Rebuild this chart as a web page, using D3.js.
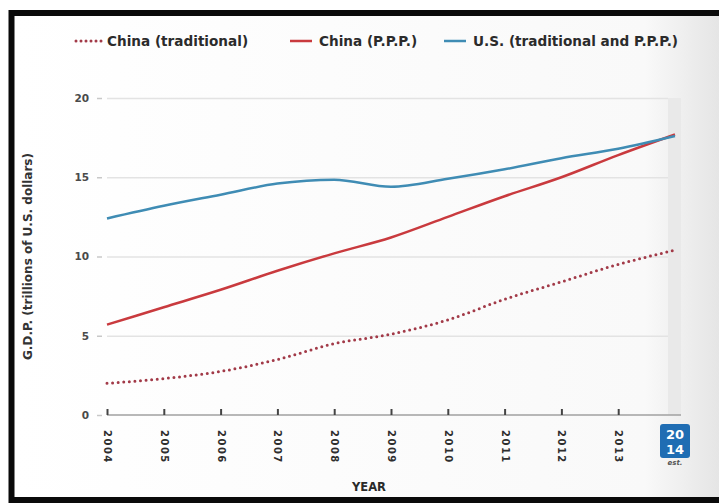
<!DOCTYPE html>
<html>
<head>
<meta charset="utf-8">
<script src="https://cdn.jsdelivr.net/npm/d3@7"></script>
<style>
  body { margin: 0; background: #fff; }
  svg { display: block; }
  text { font-family: "DejaVu Sans", sans-serif; font-weight: bold; }
</style>
</head>
<body>
<div id="chart"></div>
<script>
// values, trillions of U.S. dollars
const years = [2004, 2005, 2006, 2007, 2008, 2009, 2010, 2011, 2012, 2013, 2014];
const chinaTraditional = [2.0, 2.3, 2.75, 3.5, 4.5, 5.1, 6.0, 7.3, 8.4, 9.5, 10.4];
const chinaPPP = [5.7, 6.8, 7.9, 9.1, 10.2, 11.2, 12.5, 13.8, 15.0, 16.4, 17.7];
const usGDP = [12.4, 13.2, 13.9, 14.6, 14.85, 14.4, 14.9, 15.5, 16.2, 16.8, 17.6];
const yTicks = [0, 5, 10, 15, 20];
const seriesNames = ["China (traditional)", "China (P.P.P.)", "U.S. (traditional and P.P.P.)"];

const W = 719, H = 503;
const svg = d3.select("#chart").append("svg")
  .attr("width", W).attr("height", H);

// soft grey fade on the right like the photo
const defs = svg.append("defs");
const grad = defs.append("linearGradient").attr("id", "bg").attr("x1", 0).attr("x2", 1);
grad.append("stop").attr("offset", "0%").attr("stop-color", "#ffffff");
grad.append("stop").attr("offset", "88%").attr("stop-color", "#f9f9f9");
grad.append("stop").attr("offset", "100%").attr("stop-color", "#e2e2e2");
svg.append("rect").attr("x", 12).attr("y", 13).attr("width", W).attr("height", 487)
  .attr("fill", "url(#bg)");

// black frame
svg.append("rect").attr("x", 11.5).attr("y", 13).attr("width", W + 20).attr("height", 487)
  .attr("fill", "none").attr("stroke", "#0a0a0a").attr("stroke-width", 6);

const x = d3.scaleLinear().domain([2004, 2014]).range([107, 675]);
const y = d3.scaleLinear().domain([0, 20]).range([415, 98]);

// shaded band for 2014
svg.append("rect")
  .attr("x", x(2014) - 7).attr("y", y(20))
  .attr("width", 13).attr("height", y(0) - y(20))
  .attr("fill", "#e9e9e9");

// gridlines
svg.append("g")
  .attr("transform", `translate(${x(2004)},0)`)
  .call(d3.axisLeft(y).tickValues(yTicks.slice(1)).tickSize(-(x(2014) - 7 - x(2004))).tickFormat(""))
  .call(g => g.select(".domain").remove())
  .call(g => g.selectAll("line").attr("stroke", "#e3e3e3").attr("stroke-width", 1.5));

// y axis labels
svg.append("g")
  .attr("transform", "translate(102,0)")
  .call(d3.axisLeft(y).tickValues(yTicks).tickSize(5).tickPadding(8))
  .call(g => g.select(".domain").remove())
  .call(g => g.selectAll("line").attr("stroke", "#c8c8c8").attr("stroke-width", 1.5))
  .call(g => g.selectAll("text")
    .style("font-family", "'DejaVu Sans', sans-serif")
    .style("font-weight", "bold").style("font-size", "10.5px").attr("fill", "#4a4a4a"));

// x axis
const xAxis = svg.append("g")
  .attr("transform", `translate(0,${y(0)})`)
  .call(d3.axisBottom(x).tickValues(years.slice(0, -1)).tickFormat(d3.format("d"))
    .tickSizeInner(-6).tickSizeOuter(0))
  .call(g => g.select(".domain").attr("d", `M${x(2004)},0H${x(2014) + 6}`)
    .attr("stroke", "#a0a0a0").attr("stroke-width", 1.5))
  .call(g => g.selectAll(".tick line").attr("stroke", "#444").attr("stroke-width", 2));
xAxis.selectAll(".tick text")
  .attr("transform", "rotate(90)")
  .attr("x", 15).attr("y", 0).attr("dy", "0.35em")
  .style("text-anchor", "start")
  .style("font-family", "'DejaVu Sans', sans-serif")
  .style("font-weight", "bold").style("font-size", "10px")
  .style("letter-spacing", "1.5px")
  .attr("fill", "#2e2e2e");

// 2014 badge
const badge = svg.append("g").attr("transform", `translate(${x(2014)},0)`);
badge.append("rect").attr("x", -15).attr("y", 424).attr("width", 30).attr("height", 34)
  .attr("rx", 3).attr("fill", "#1f6db3");
badge.append("text").attr("y", 439).attr("text-anchor", "middle")
  .style("font-size", "13px").attr("fill", "#fff").text("20");
badge.append("text").attr("y", 454).attr("text-anchor", "middle")
  .style("font-size", "13px").attr("fill", "#fff").text("14");
badge.append("text").attr("y", 465).attr("text-anchor", "middle")
  .style("font-size", "7px").style("font-style", "italic").attr("fill", "#555").text("est.");

// axis titles
svg.append("text")
  .attr("transform", `translate(32,${(y(0) + y(20)) / 2}) rotate(-90)`)
  .attr("text-anchor", "middle")
  .style("font-size", "12px").attr("fill", "#333")
  .text("G.D.P. (trillions of U.S. dollars)");

svg.append("text")
  .attr("x", 369).attr("y", 491).attr("text-anchor", "middle")
  .style("font-size", "11.5px").attr("fill", "#2a2a2a")
  .text("YEAR");

// lines
const line = d3.line().x((d, i) => x(years[i])).y(d => y(d)).curve(d3.curveMonotoneX);
const series = [
  { name: seriesNames[0], values: chinaTraditional, color: "#a23a48", dash: "0 5.6", width: 3, cap: "round" },
  { name: seriesNames[1], values: chinaPPP, color: "#c93a3e", dash: null, width: 2.5, cap: "butt" },
  { name: seriesNames[2], values: usGDP, color: "#3f8cb4", dash: null, width: 2.5, cap: "butt" }
];

svg.selectAll(".series")
  .data(series)
  .join("path")
  .attr("class", "series")
  .attr("d", d => line(d.values))
  .attr("fill", "none")
  .attr("stroke", d => d.color)
  .attr("stroke-width", d => d.width)
  .attr("stroke-linecap", d => d.cap)
  .attr("stroke-dasharray", d => d.dash);

// legend
const legendX = [76, 290, 444];
const legend = svg.selectAll(".legend")
  .data(series)
  .join("g")
  .attr("class", "legend")
  .attr("transform", (d, i) => `translate(${legendX[i]},41)`);
legend.append("line")
  .attr("x1", 0).attr("x2", (d, i) => i === 0 ? 26 : 22)
  .attr("stroke", d => d.color)
  .attr("stroke-width", d => d.width)
  .attr("stroke-linecap", d => d.cap)
  .attr("stroke-dasharray", d => d.dash ? "0 5" : null);
legend.append("text")
  .attr("x", (d, i) => i === 0 ? 31 : 29).attr("dy", "0.35em")
  .style("font-size", "13.6px").attr("fill", "#2b2b2b")
  .text(d => d.name);
</script>
</body>
</html>
